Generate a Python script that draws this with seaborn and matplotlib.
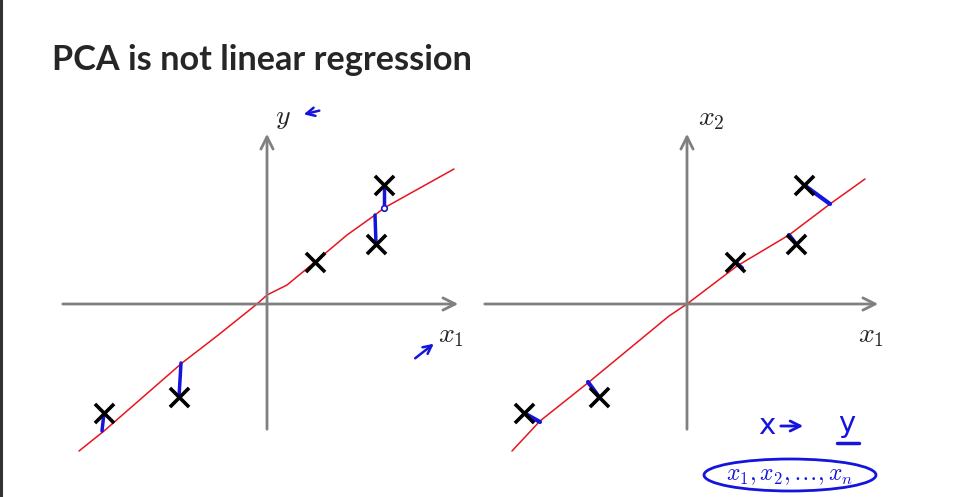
import matplotlib
matplotlib.use('Agg')
import matplotlib.pyplot as plt
import seaborn as sns
import pandas as pd
from matplotlib.patches import Ellipse

# data (units ~ pixels, origin at the axis crossing)
pts_x = [-163, -88, 48, 109, 117]
pts_y = [-109, -93, 42, 60, 119]

# hand drawn regression line (left) and PCA line (right)
lr_x = [-188, -163, -85, -50, -10, 0, 20, 48, 80, 108, 117, 187]
lr_y = [-147, -127, -59, -32, 0, 9, 19, 42, 69, 89, 96, 135]
pca_x = [-175, -147, -98, -18, 0, 50, 102, 143, 178]
pca_y = [-147, -117, -78, -12, 0, 38, 69, 100, 125]

# vertical residuals (left) and projections (right)
lr_foot_x = [-165, -86, 48, 108, 117]
lr_foot_y = [-127, -59, 42, 89, 96]
pca_foot_x = [-147, -99, 55, 102, 143]
pca_foot_y = [-118, -78, 36, 69, 100]

sns.set_theme(style='white')
plt.rcParams['mathtext.fontset'] = 'cm'

W, H = 960, 497
fig = plt.figure(figsize=(9.6, 4.97), dpi=100)
fig.patch.set_facecolor('white')

gray = '#808080'
blue = '#1414dc'
red = '#e8141e'

pts = pd.DataFrame({'x': pts_x, 'y': pts_y})


def make_axes(left_px, origin_x):
    # axes covering 440x380 px, 1 data unit = 1 px
    ax = fig.add_axes([left_px / W, (H - 480) / H, 440 / W, 380 / H])
    ax.set_xlim(left_px - origin_x, left_px + 440 - origin_x)
    ax.set_ylim(-(480 - 304), 304 - 100)
    ax.axis('off')
    return ax


def draw_axes(ax, x0, x1):
    ax.annotate('', xy=(x1, 0), xytext=(x0, 0),
                arrowprops=dict(arrowstyle='->', color=gray, lw=2, mutation_scale=22))
    ax.annotate('', xy=(0, 173), xytext=(0, -128),
                arrowprops=dict(arrowstyle='->', color=gray, lw=2, mutation_scale=22))


# left: linear regression
ax1 = make_axes(40, 267)
draw_axes(ax1, -207, 194)
sns.lineplot(x=lr_x, y=lr_y, sort=False, estimator=None, color=red, lw=1.1, ax=ax1)
for px, py, fx, fy in zip(pts_x, pts_y, lr_foot_x, lr_foot_y):
    ax1.plot([px, fx], [py, fy], color=blue, lw=2.5, solid_capstyle='round')
ax1.plot([lr_foot_x[4]], [lr_foot_y[4]], 'o', mfc='white', mec=blue, ms=4, mew=1.2)
sns.scatterplot(data=pts, x='x', y='y', marker='x', s=190, color='black', linewidth=2.6, ax=ax1, zorder=5)
ax1.text(16, 187, '$y$', fontsize=20, ha='center', va='center')
ax1.text(184, -31, '$x_1$', fontsize=20, ha='center', va='center')
ax1.annotate('', xy=(34, 189), xytext=(55, 194),
             arrowprops=dict(arrowstyle='->', color=blue, lw=1.8, mutation_scale=15))
ax1.annotate('', xy=(169, -38), xytext=(146, -56),
             arrowprops=dict(arrowstyle='->', color=blue, lw=1.8, mutation_scale=15))
ax1.set_xlabel('')
ax1.set_ylabel('')

# right: PCA
ax2 = make_axes(470, 687)
draw_axes(ax2, -205, 194)
sns.lineplot(x=pca_x, y=pca_y, sort=False, estimator=None, color=red, lw=1.1, ax=ax2)
for px, py, fx, fy in zip(pts_x, pts_y, pca_foot_x, pca_foot_y):
    ax2.plot([px, fx], [py, fy], color=blue, lw=3, solid_capstyle='round')
sns.scatterplot(data=pts, x='x', y='y', marker='x', s=190, color='black', linewidth=2.6, ax=ax2, zorder=5)
ax2.text(24, 186, '$x_2$', fontsize=20, ha='center', va='center')
ax2.text(184, -31, '$x_1$', fontsize=20, ha='center', va='center')
ax2.set_xlabel('')
ax2.set_ylabel('')

# handwritten note
ax2.text(80, -122, 'x', color=blue, fontsize=21, ha='center', va='center')
ax2.annotate('', xy=(119, -122), xytext=(91, -122),
             arrowprops=dict(arrowstyle='->', color=blue, lw=2, mutation_scale=18))
ax2.text(160, -120, 'y', color=blue, fontsize=21, ha='center', va='center')
ax2.plot([150, 172], [-139, -139], color=blue, lw=2.5, clip_on=False)
ax2.add_patch(Ellipse((103, -171), 172, 32, fill=False, ec=blue, lw=2, clip_on=False))
ax2.text(103, -171, r'$x_1, x_2, \ldots, x_n$', color=blue, fontsize=17,
         ha='center', va='center', clip_on=False)

# title
fig.text(52 / W, (H - 70) / H, 'PCA is not linear regression', fontsize=24.7,
         fontweight='bold', family=['Lato', 'DejaVu Sans'], va='baseline', ha='left')

# left border of the slide
fig.add_artist(plt.Line2D([1.2 / W, 1.2 / W], [0, 1], color='#333333', lw=2.2))

fig.savefig('out.png', dpi=100, facecolor='white')
